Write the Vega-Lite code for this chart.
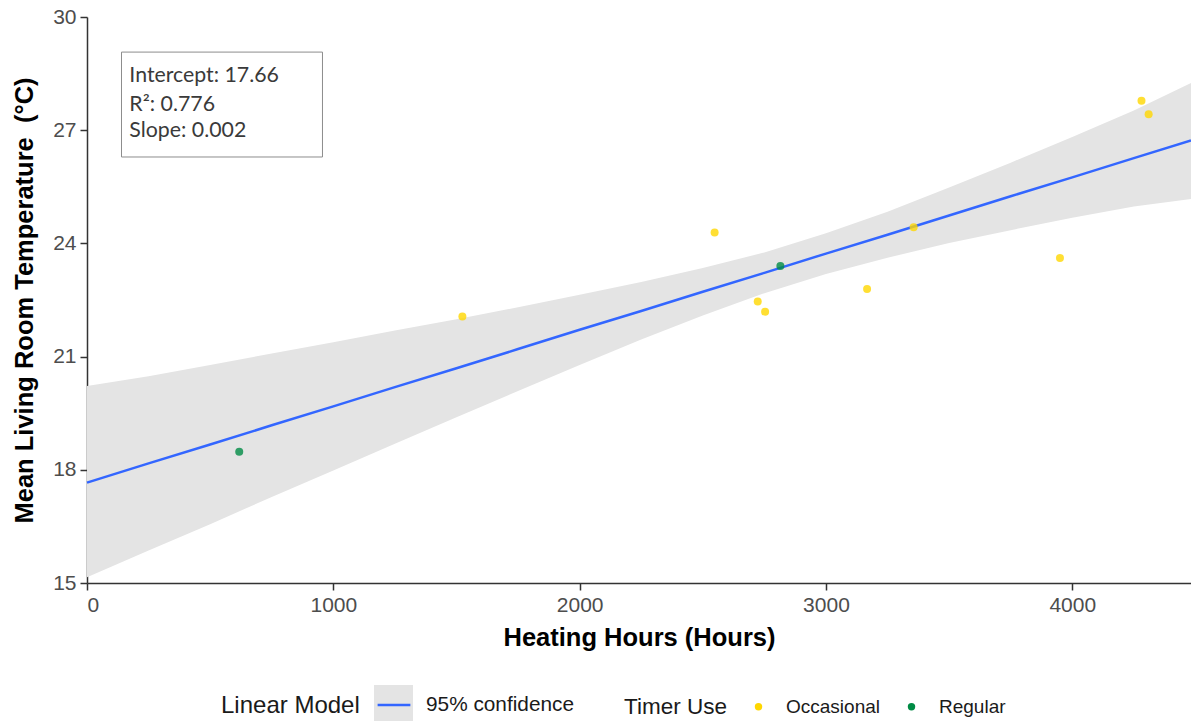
{
  "$schema": "https://vega.github.io/schema/vega-lite/v6.json",
  "width": 1104,
  "height": 566,
  "autosize": {"type": "none"},
  "padding": {"left": 87, "top": 17, "right": 0, "bottom": 138},
  "background": "white",
  "datasets": {
    "band": [
      {"x": 0, "lo": 15.15, "hi": 20.22, "fit": 17.66},
      {"x": 250, "lo": 15.86, "hi": 20.48, "fit": 18.17},
      {"x": 500, "lo": 16.56, "hi": 20.78, "fit": 18.67},
      {"x": 750, "lo": 17.28, "hi": 21.08, "fit": 19.18},
      {"x": 1000, "lo": 17.98, "hi": 21.38, "fit": 19.68},
      {"x": 1250, "lo": 18.69, "hi": 21.69, "fit": 20.19},
      {"x": 1500, "lo": 19.39, "hi": 21.99, "fit": 20.69},
      {"x": 1750, "lo": 20.09, "hi": 22.31, "fit": 21.2},
      {"x": 2000, "lo": 20.78, "hi": 22.64, "fit": 21.71},
      {"x": 2250, "lo": 21.45, "hi": 22.98, "fit": 22.21},
      {"x": 2500, "lo": 22.09, "hi": 23.35, "fit": 22.72},
      {"x": 2750, "lo": 22.68, "hi": 23.76, "fit": 23.22},
      {"x": 3000, "lo": 23.19, "hi": 24.27, "fit": 23.73},
      {"x": 3250, "lo": 23.62, "hi": 24.84, "fit": 24.23},
      {"x": 3500, "lo": 24.01, "hi": 25.48, "fit": 24.74},
      {"x": 3750, "lo": 24.35, "hi": 26.14, "fit": 25.25},
      {"x": 4000, "lo": 24.68, "hi": 26.82, "fit": 25.75},
      {"x": 4250, "lo": 24.98, "hi": 27.52, "fit": 26.26},
      {"x": 4482, "lo": 25.18, "hi": 28.25, "fit": 26.73}
    ],
    "pts": [
      {"hours": 618, "temp": 18.48, "timer": "Regular"},
      {"hours": 1524, "temp": 22.06, "timer": "Occasional"},
      {"hours": 2548, "temp": 24.29, "timer": "Occasional"},
      {"hours": 2723, "temp": 22.46, "timer": "Occasional"},
      {"hours": 2753, "temp": 22.19, "timer": "Occasional"},
      {"hours": 2815, "temp": 23.4, "timer": "Regular"},
      {"hours": 3167, "temp": 22.79, "timer": "Occasional"},
      {"hours": 3356, "temp": 24.43, "timer": "Occasional"},
      {"hours": 3950, "temp": 23.61, "timer": "Occasional"},
      {"hours": 4281, "temp": 27.78, "timer": "Occasional"},
      {"hours": 4310, "temp": 27.42, "timer": "Occasional"}
    ],
    "note": [
      {"x": 172, "y": 28.27, "label": "Intercept: 17.66"},
      {"x": 172, "y": 27.52, "label": "R²: 0.776"},
      {"x": 172, "y": 26.82, "label": "Slope: 0.002"}
    ],
    "box": [
      {"x1": 140, "x2": 956, "y1": 26.29, "y2": 29.07}
    ]
  },
  "layer": [
    {
      "data": {"name": "band"},
      "mark": {"type": "area", "opacity": 1},
      "encoding": {
        "x": {"field": "x", "type": "quantitative", "scale": {"domain": [0, 4482], "nice": false, "zero": false},
              "axis": {"title": "Heating Hours (Hours)", "values": [0, 1000, 2000, 3000, 4000], "format": "d"}},
        "y": {"field": "lo", "type": "quantitative", "scale": {"domain": [15, 30], "nice": false, "zero": false},
              "axis": {"title": "Mean Living Room Temperature\u00a0\u00a0(°C)", "values": [15, 18, 21, 24, 27, 30], "format": "d"}},
        "y2": {"field": "hi"},
        "fill": {
          "datum": "band",
          "type": "nominal",
          "scale": {"range": ["#e4e4e4"]},
          "legend": {
            "title": null,
            "orient": "none",
            "legendX": 287,
            "legendY": 668,
            "symbolType": "square",
            "symbolSize": 1521,
            "symbolStrokeWidth": 0,
            "symbolOpacity": 1,
            "labelOpacity": 0,
            "labelFontSize": 1
          }
        }
      }
    },
    {
      "data": {"name": "band"},
      "mark": {"type": "line", "strokeWidth": 2.5},
      "encoding": {
        "x": {"field": "x", "type": "quantitative"},
        "y": {"field": "fit", "type": "quantitative"},
        "stroke": {
          "datum": "95% confidence",
          "type": "nominal",
          "scale": {"range": ["#3366FF"]},
          "legend": {
            "title": "Linear Model",
            "orient": "none",
            "legendX": 134,
            "legendY": 667,
            "titleOrient": "left",
            "titlePadding": 13,
            "titleAnchor": "middle",
            "titleBaseline": "middle",
            "titleFontSize": 24,
            "labelFontSize": 20.8,
            "symbolType": "M-0.84,0H0.84",
            "symbolSize": 1521,
            "symbolStrokeWidth": 2.5,
            "labelOffset": 11,
            "encode": {"title": {"update": {"dy": {"value": 7}}}}
          }
        }
      }
    },
    {
      "data": {"name": "pts"},
      "mark": {"type": "point", "filled": true, "size": 64, "opacity": 0.8},
      "encoding": {
        "x": {"field": "hours", "type": "quantitative"},
        "y": {"field": "temp", "type": "quantitative"},
        "color": {
          "field": "timer",
          "type": "nominal",
          "scale": {"domain": ["Occasional", "Regular"], "range": ["#FFD700", "#008B45"]},
          "legend": {
            "title": "Timer Use",
            "orient": "none",
            "legendX": 537,
            "legendY": 680,
            "direction": "horizontal",
            "titleOrient": "left",
            "titlePadding": 22,
            "titleFontSize": 22.5,
            "labelFontSize": 19,
            "symbolType": "circle",
            "symbolSize": 55,
            "symbolOpacity": 1,
            "labelOffset": 18,
            "columnPadding": 22
          }
        }
      }
    },
    {
      "data": {"name": "box"},
      "mark": {"type": "rect", "fillOpacity": 0, "stroke": "#8c8c8c", "strokeWidth": 1},
      "encoding": {
        "x": {"field": "x1", "type": "quantitative"},
        "x2": {"field": "x2"},
        "y": {"field": "y1", "type": "quantitative"},
        "y2": {"field": "y2"}
      }
    },
    {
      "data": {"name": "note"},
      "mark": {"type": "text", "align": "left", "baseline": "alphabetic", "font": "Lato", "fontSize": 21.3, "color": "#3a3a3a"},
      "encoding": {
        "x": {"field": "x", "type": "quantitative"},
        "y": {"field": "y", "type": "quantitative"},
        "text": {"field": "label"}
      }
    }
  ],
  "config": {
    "view": {"stroke": null},
    "font": "Liberation Sans",
    "axis": {
      "grid": false,
      "domainColor": "#333333",
      "domainWidth": 1.5,
      "tickColor": "#333333",
      "tickWidth": 1.5,
      "tickSize": 7,
      "labelFont": "Liberation Sans",
      "labelFontSize": 21,
      "labelColor": "#4d4d4d",
      "labelPadding": 4,
      "titleFont": "Liberation Sans",
      "titleFontSize": 25.5,
      "titleFontWeight": "bold",
      "titleColor": "#000000"
    },
    "axisX": {"titlePadding": 10},
    "axisY": {"titlePadding": 15},
    "legend": {
      "titleFont": "Liberation Sans",
      "titleFontWeight": "normal",
      "titleColor": "#1a1a1a",
      "labelFont": "Liberation Sans",
      "labelColor": "#1a1a1a"
    }
  }
}
